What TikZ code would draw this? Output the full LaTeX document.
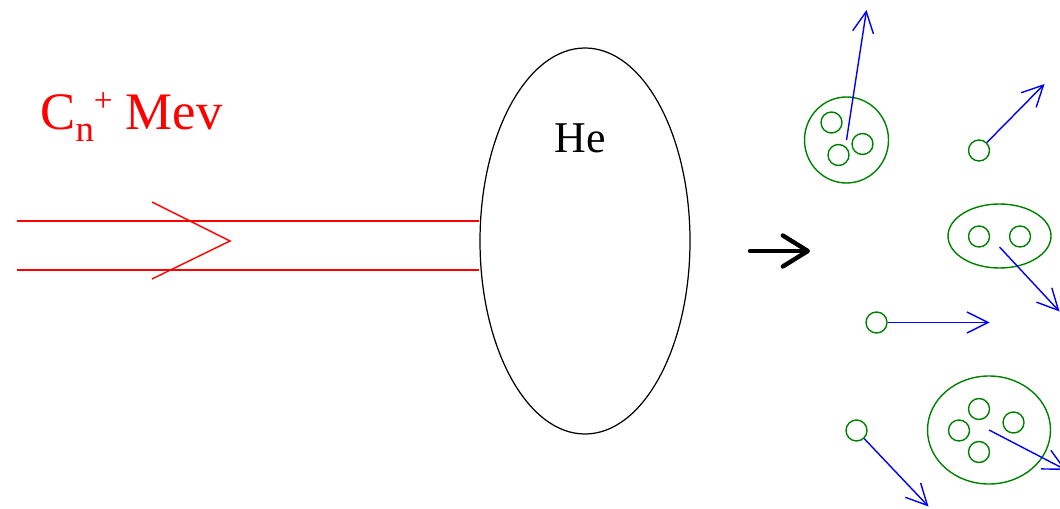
\documentclass[tikz,border=0pt]{standalone}
\usepackage{fontspec}
\setmainfont{Liberation Serif}
\newfontfamily\tms{Liberation Serif}
\usetikzlibrary{arrows.meta, shapes.geometric}
\definecolor{clgreen}{RGB}{0,128,0}

\begin{document}
\begin{tikzpicture}[
    beam/.style={draw=red, line width=0.8pt},
    gas/.style={draw, ellipse, line width=0.7pt, minimum width=4.2cm, minimum height=7.72cm, inner sep=0pt},
    atom/.style={draw=clgreen, circle, line width=0.8pt, minimum size=0.42cm, inner sep=0pt},
    clus/.style={draw=clgreen, ellipse, line width=0.8pt, inner sep=0pt},
    vel/.style={draw=blue, line width=0.8pt, -{Straight Barb[length=0.42cm, width=0.42cm]}},
    lbl/.style={inner sep=0pt, anchor=base west, font=\tms}
]
\useasboundingbox (0,0) rectangle (21.2,10.16);
\clip (0,0) rectangle (21.2,10.16);

% incoming beam
\node[gas] (gas) at (11.7,5.34) {};
\node[lbl, anchor=base] (he) at (11.61,7.1) {\fontsize{25}{27}\selectfont He};
\node[lbl, text=red] (ion) at (0.8,7.56) {\fontsize{30}{32}\selectfont C\raisebox{-0.24cm}{\fontsize{21}{21}\selectfont n}\raisebox{0.36cm}{\fontsize{19}{19}\selectfont +} Mev};
\coordinate (bA) at (0.34,5.74);
\coordinate (bB) at (0.34,4.76);
\draw[beam] (bA) -- (bA -| gas.west);
\draw[beam] (bB) -- (bB -| gas.west);
\draw[beam] (3.04,6.12) -- (4.6,5.34) -- (3.04,4.58);

% result
\coordinate (gA) at (15.0,5.14);
\coordinate (gB) at (16.2,5.14);
\draw[line width=2.5pt, line cap=round, -{Straight Barb[length=0.5cm, width=0.62cm, round]}] (gA) -- (gB);

% fragments
\node[clus, minimum width=1.68cm, minimum height=1.72cm] (c1) at (16.93,7.36) {};
\node[atom] (a11) at (16.63,7.71) {};
\node[atom] (a12) at (16.77,7.06) {};
\node[atom] (a13) at (17.25,7.28) {};
\coordinate (v1) at (17.33,9.96);
\draw[vel] (c1.center) -- (v1);

\node[atom] (p1) at (19.58,7.15) {};
\coordinate (w1) at (20.89,8.48);
\draw[vel] (p1) -- (w1);

\node[clus, minimum width=2.06cm, minimum height=1.28cm] (c2) at (19.99,5.44) {};
\node[atom] (a21) at (19.58,5.43) {};
\node[atom] (a22) at (20.4,5.43) {};
\coordinate (v2) at (21.19,3.93);
\draw[vel] ([yshift=-2.2mm]c2.center) -- (v2);

\node[atom] (p2) at (17.53,3.71) {};
\coordinate (w2) at (19.79,3.71);
\draw[vel] (p2) -- (w2);

\node[clus, minimum width=2.46cm, minimum height=2.16cm] (c3) at (19.78,1.56) {};
\node[atom] (a31) at (19.58,1.98) {};
\node[atom] (a32) at (19.18,1.55) {};
\node[atom] (a33) at (20.27,1.71) {};
\node[atom] (a34) at (19.58,1.12) {};
\coordinate (v3) at (21.32,0.76);
\draw[vel] (c3.center) -- (v3);

\node[atom] (p3) at (17.13,1.55) {};
\coordinate (w3) at (18.57,0.03);
\draw[vel] (p3) -- (w3);

\end{tikzpicture}
\end{document}
